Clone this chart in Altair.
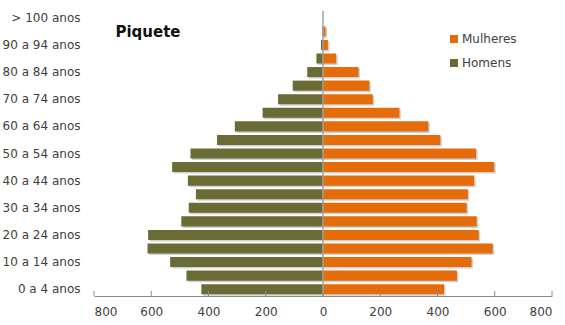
import altair as alt
import pandas as pd

# Age groups, youngest first
ages = [
    "0 a 4 anos", "5 a 9 anos", "10 a 14 anos", "15 a 19 anos", "20 a 24 anos",
    "25 a 29 anos", "30 a 34 anos", "35 a 39 anos", "40 a 44 anos", "45 a 49 anos",
    "50 a 54 anos", "55 a 59 anos", "60 a 64 anos", "65 a 69 anos", "70 a 74 anos",
    "75 a 79 anos", "80 a 84 anos", "85 a 89 anos", "90 a 94 anos", "95 a 99 anos",
    "> 100 anos",
]
homens = [425, 477, 534, 613, 611, 495, 469, 444, 472, 527,
          463, 370, 308, 211, 157, 106, 55, 23, 7, 2, 0]
mulheres = [423, 468, 519, 593, 544, 537, 502, 506, 528, 598,
            535, 410, 368, 267, 174, 162, 124, 46, 17, 9, 0]
x_ticks = [-800, -600, -400, -200, 0, 200, 400, 600, 800]
y_labels = ages[::2]

FONT = "DejaVu Sans"
ORANGE = "#e46c0a"
OLIVE = "#6b6b35"

rows = []
for a, h, m in zip(ages, homens, mulheres):
    rows.append({"idade": a, "sexo": "Homens", "valor": -h})
    rows.append({"idade": a, "sexo": "Mulheres", "valor": m})
df = pd.DataFrame(rows)

W, H = 458, 285

x_scale = alt.Scale(domain=[-800, 800], nice=False, zero=False)
y_sort = list(reversed(ages))
y_scale = alt.Scale(paddingInner=0.26, paddingOuter=0.13)

x_axis = alt.Axis(
    values=x_ticks,
    labelExpr="abs(datum.value)",
    grid=False,
    ticks=False,
    domainColor="#8c8c8c",
    domainWidth=1,
    labelFont=FONT,
    labelFontSize=12,
    labelColor="#404040",
    labelPadding=10,
)
y_axis = alt.Axis(
    values=y_labels,
    domain=False,
    ticks=False,
    grid=False,
    labelFont=FONT,
    labelFontSize=12,
    labelColor="#404040",
    labelPadding=14,
)

x_enc = alt.X("valor:Q", scale=x_scale, title=None, axis=x_axis)
y_enc = alt.Y("idade:N", sort=y_sort, scale=y_scale, title=None, axis=y_axis)

base = alt.Chart(df)

# soft drop shadow under each bar
shadow = base.mark_bar(color="#000000", opacity=0.18, xOffset=1.5, yOffset=1.5).encode(
    x=x_enc, y=y_enc
)

bars = base.mark_bar().encode(
    x=x_enc,
    y=y_enc,
    color=alt.Color(
        "sexo:N",
        scale=alt.Scale(domain=["Mulheres", "Homens"], range=[ORANGE, OLIVE]),
        legend=alt.Legend(
            title=None,
            orient="none",
            legendX=354,
            legendY=22,
            symbolType="square",
            symbolSize=64,
            symbolStrokeWidth=0,
            labelFont=FONT,
            labelFontSize=12,
            labelColor="#404040",
            labelOffset=2,
            rowPadding=12,
        ),
    ),
)

# vertical zero line
zero_line = alt.Chart(pd.DataFrame({"x": [0]})).mark_rule(
    color="#a0a0a0", strokeWidth=1.5
).encode(x=alt.X("x:Q", scale=x_scale), y=alt.value(0), y2=alt.value(H))

# inward tick marks on the value axis
ticks = alt.Chart(pd.DataFrame({"t": x_ticks})).mark_rule(
    color="#8c8c8c", strokeWidth=1
).encode(x=alt.X("t:Q", scale=x_scale), y=alt.value(H - 5), y2=alt.value(H))

title = alt.Chart(pd.DataFrame({"t": ["Piquete"]})).mark_text(
    font=FONT, fontSize=15, fontWeight="bold", color="#111111", align="center", baseline="middle"
).encode(text="t:N", x=alt.value(54), y=alt.value(21))

chart = (
    alt.layer(shadow, bars, zero_line, ticks, title)
    .properties(
        width=W,
        height=H,
        background="white",
        autosize=alt.AutoSizeParams(type="none"),
        padding={"left": 94, "top": 11, "right": 13, "bottom": 29},
    )
    .configure_view(strokeWidth=0)
)

chart.save("out.html", embed_options={"renderer": "svg", "actions": False})
